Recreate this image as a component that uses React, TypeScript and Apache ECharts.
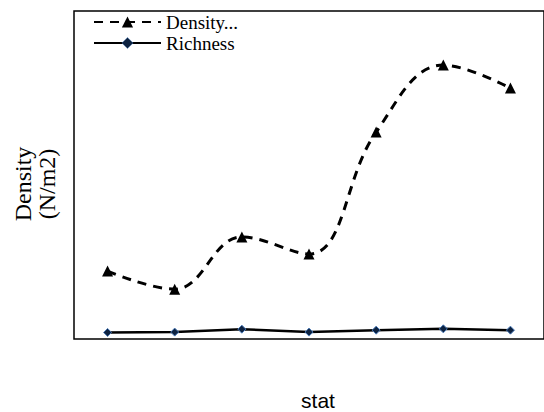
import React, { useEffect, useRef } from "react";
import * as echarts from "echarts";

const categories = ["1", "2", "3", "4", "5", "6", "7"];
const densityValues = [20.7, 15.2, 31.1, 25.9, 63.1, 83.5, 76.5];
const richnessValues = [2.0, 2.1, 3.0, 2.1, 2.7, 3.1, 2.7];
const seriesNames = ["Density...", "Richness"];
const yTitle = "Density\n(N/m2)";
const xTitle = "stat";

export default function App() {
  const ref = useRef<HTMLDivElement>(null);
  useEffect(() => {
    const chart = echarts.init(ref.current!, null, { renderer: "svg" });
    chart.setOption({
      animation: false,
      backgroundColor: "#ffffff",
      grid: {
        left: 74,
        top: 11,
        width: 473,
        height: 328,
        show: true,
        borderColor: "#000000",
        borderWidth: 1.5,
        backgroundColor: "transparent",
      },
      legend: {
        orient: "vertical",
        left: 93,
        top: 12,
        padding: 0,
        itemWidth: 67,
        itemHeight: 14,
        itemGap: 1,
        textStyle: {
          fontFamily: "Liberation Serif",
          fontSize: 19,
          lineHeight: 20,
          color: "#000",
        },
        data: [
          { name: seriesNames[0] },
          { name: seriesNames[1], itemStyle: { borderWidth: 0.5 } },
        ],
      },
      xAxis: {
        type: "category",
        data: categories,
        boundaryGap: true,
        axisLine: { show: false },
        axisTick: { show: false },
        axisLabel: { show: false },
        splitLine: { show: false },
      },
      yAxis: {
        type: "value",
        min: 0,
        max: 100,
        axisLine: { show: false },
        axisTick: { show: false },
        axisLabel: { show: false },
        splitLine: { show: false },
      },
      graphic: [
        {
          type: "text",
          x: 35,
          y: 184,
          rotation: Math.PI / 2,
          style: {
            text: yTitle,
            fontFamily: "Liberation Serif",
            fontSize: 24,
            lineHeight: 24,
            fill: "#000",
            align: "center",
            verticalAlign: "middle",
          },
        },
        {
          type: "text",
          x: 318,
          y: 400,
          style: {
            text: xTitle,
            fontFamily: "Liberation Sans",
            fontSize: 21,
            fill: "#000",
            align: "center",
            verticalAlign: "middle",
          },
        },
      ],
      series: [
        {
          name: seriesNames[0],
          type: "line",
          data: densityValues,
          smooth: 0.4,
          symbol: "triangle",
          symbolSize: 11,
          itemStyle: { color: "#000000" },
          lineStyle: { color: "#000000", width: 3, type: [9, 7] },
        },
        {
          name: seriesNames[1],
          type: "line",
          data: richnessValues,
          symbol: "diamond",
          symbolSize: 8,
          itemStyle: { color: "#0d2240", borderColor: "#4a7ab8", borderWidth: 1 },
          lineStyle: { color: "#000000", width: 2.5 },
        },
      ],
    });
    return () => chart.dispose();
  }, []);
  return (
    <div
      ref={ref}
      style={{ position: "fixed", left: 0, top: 0, width: 544, height: 412 }}
    />
  );
}
